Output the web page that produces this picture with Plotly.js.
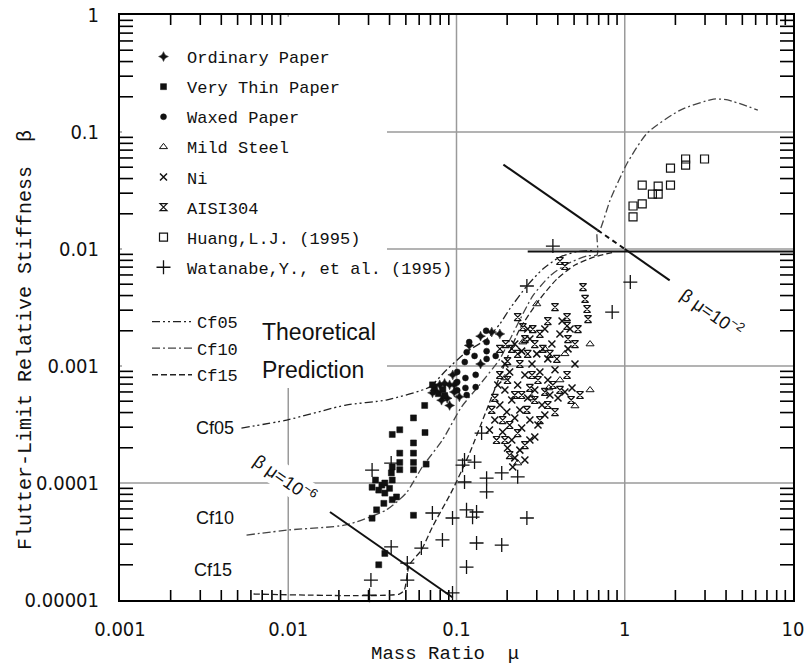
<!DOCTYPE html>
<html><head><meta charset="utf-8">
<script src="https://cdn.plot.ly/plotly-3.0.1.min.js"></script>
<style>html,body{margin:0;padding:0;background:#fff}#chart{width:812px;height:666px}</style>
</head><body><div id="chart"></div>
<script>
// ---------- measured data (mass ratio mu, flutter-limit stiffness beta) ----------
const ordinaryMu   = [0.0795,0.085,0.091,0.097,0.0743,0.072,0.088,0.0815,0.091,0.097,0.104,0.095,0.139,0.162,0.119,0.139,0.181];
const ordinaryBeta = [6.9e-4,7.1e-4,6.9e-4,6.0e-4,6.2e-4,5.9e-4,5.3e-4,5.1e-4,4.6e-4,6.9e-4,5.45e-4,8.4e-4,1.8e-3,1.95e-3,1.5e-3,1.04e-3,1.88e-3];

const thinMu   = [0.0647,0.0555,0.0415,0.046,0.065,0.0555,0.046,0.0555,0.046,0.046,0.0555,0.0555,0.066,0.0415,0.041,0.0315,0.0345,0.0375,0.0415,0.044,0.0415,0.0335,0.0315,0.037,0.0555,0.0375,0.0345,0.033,0.036,0.0375,0.04,0.074,0.078,0.083,0.072,0.085];
const thinBeta = [4.6e-4,3.6e-4,2.6e-4,2.85e-4,2.7e-4,2.2e-4,1.8e-4,1.8e-4,1.5e-4,1.3e-4,1.5e-4,1.3e-4,1.45e-4,1.37e-4,1.22e-4,9.2e-5,8.7e-5,8.2e-5,1.06e-4,7.6e-5,7.2e-5,5.9e-5,5.0e-5,6.7e-5,5.3e-5,2.5e-5,2.0e-5,1.06e-4,9.6e-5,1.0e-4,9.0e-5,6.6e-4,5.8e-4,6.3e-4,6.9e-4,5.6e-4];

const waxedMu   = [0.150,0.151,0.151,0.151,0.128,0.115,0.112,0.130,0.130,0.113,0.101,0.101,0.101,0.171,0.113,0.115,0.119];
const waxedBeta = [2.0e-3,1.6e-3,1.34e-3,1.15e-3,1.22e-3,1.31e-3,1.08e-3,8.4e-4,6.6e-4,6.5e-4,8.9e-4,7.3e-4,6.2e-4,1.22e-3,7.9e-4,5.65e-4,1.6e-3];

const steelMu   = [0.300,0.622,0.622,0.506,0.354,0.231,0.248,0.412,0.281,0.335,0.194,0.441];
const steelBeta = [3.39e-3,1.54e-3,6.24e-4,4.55e-4,6.49e-4,1.48e-4,1.60e-3,7.59e-4,5.33e-4,1.40e-3,7.9e-4,1.27e-3];

const niMu   = [0.222,0.244,0.273,0.300,0.335,0.369,0.412,0.460,0.506,0.486,0.441,0.401,0.349,0.313,0.281,0.255,0.231,0.207,0.194,0.213,0.238,0.265,0.292,0.322,0.273,0.244,0.222,0.199,0.181,0.169,0.188,0.213,0.238,0.222,0.201,0.273,0.305,0.335,0.359,0.385,0.424,0.473,0.349,0.265,0.194,0.176,0.216,0.255,0.292,0.157];
const niBeta = [1.54e-3,1.34e-3,1.70e-3,1.27e-3,2.07e-3,1.54e-3,1.88e-3,1.40e-3,1.04e-3,6.49e-4,6.0e-4,5.33e-4,7.59e-4,8.89e-4,1.04e-3,8.38e-4,6.88e-4,8.89e-4,6.24e-4,5.12e-4,4.21e-4,5.33e-4,6.24e-4,4.64e-4,3.45e-4,2.95e-4,3.59e-4,4.04e-4,4.64e-4,3.45e-4,2.73e-4,2.33e-4,1.91e-4,1.64e-4,1.99e-4,2.33e-4,3.13e-4,3.81e-4,5.65e-4,9.3e-4,2.42e-3,2.07e-3,1.15e-3,2.07e-3,1.04e-3,6.88e-4,1.37e-4,1.57e-4,2.47e-4,2.84e-4];

const aisiMu   = [0.565,0.581,0.597,0.605,0.454,0.454,0.460,0.441,0.412,0.385,0.349,0.313,0.284,0.255,0.231,0.213,0.201,0.238,0.265,0.292,0.326,0.359,0.395,0.374,0.335,0.305,0.273,0.244,0.222,0.201,0.181,0.169,0.188,0.207,0.231,0.255,0.207,0.194,0.173,0.162,0.262,0.292,0.313,0.349,0.385,0.412,0.454,0.506,0.527,0.480,0.542,0.231,0.248,0.181,0.196,0.281];
const aisiBeta = [4.73e-3,3.74e-3,3.07e-3,2.52e-3,2.62e-3,2.2e-3,1.70e-3,7.16e-3,7.9e-3,3.19e-3,2.42e-3,1.88e-3,2.07e-3,1.70e-3,1.27e-3,1.40e-3,1.10e-3,1.04e-3,1.27e-3,1.54e-3,1.40e-3,1.27e-3,1.15e-3,6.88e-4,6.0e-4,7.59e-4,6.49e-4,5.65e-4,5.65e-4,7.59e-4,8.38e-4,5.33e-4,3.45e-4,3.13e-4,2.67e-4,2.11e-4,1.73e-4,2.33e-4,2.33e-4,4.21e-4,4.21e-4,5.12e-4,3.45e-4,4.64e-4,4.04e-4,6.24e-4,8.38e-4,1.54e-3,2.07e-3,5.12e-4,5.65e-4,2.62e-3,2.15e-3,1.40e-3,1.54e-3,8.38e-4];

const huangMu   = [1.12,1.12,1.27,1.27,1.46,1.58,1.58,1.87,1.87,2.30,2.30,2.98];
const huangBeta = [0.0188,0.0233,0.0243,0.0352,0.0295,0.0295,0.0345,0.0352,0.0492,0.0522,0.0588,0.0588];

const watanabeMu   = [0.0101,0.0315,0.0409,0.0719,0.0947,0.1086,0.128,0.1116,0.151,0.151,0.1147,0.1316,0.1246,0.0825,0.1316,0.1857,0.0618,0.051,0.1147,0.0409,0.031,0.0304,0.051,0.0947,0.141,0.1857,0.231,0.262,0.374,0.262,0.842,1.079,0.1116];
const watanabeBeta = [9.1e-6,1.29e-4,1.48e-4,5.54e-5,5.02e-5,1.42e-4,1.51e-4,1.02e-4,1.10e-4,8.4e-5,5.9e-5,5.65e-5,5.1e-5,3.26e-5,3.07e-5,2.95e-5,2.78e-5,2.07e-5,1.91e-5,2.84e-5,1.48e-5,1.1e-5,1.48e-5,1.15e-5,2.67e-4,1.22e-4,1.13e-4,5.02e-5,1.06e-2,4.83e-3,2.89e-3,5.22e-3,1.57e-4];

// ---------- theoretical prediction curves ----------
const cf05Mu   = [0.00527,0.0098,0.0220,0.0382,0.069,0.0871,0.1147,0.151,0.181,0.207,0.262,0.326,0.412,0.52,0.65];
const cf05Beta = [2.95e-4,3.45e-4,4.64e-4,5.12e-4,6.6e-4,9.25e-4,1.32e-3,1.70e-3,2.29e-3,3.07e-3,4.83e-3,6.75e-3,8.55e-3,9.5e-3,9.7e-3];

const cf10Mu   = [0.00565,0.0101,0.0220,0.0382,0.0502,0.0626,0.0825,0.107,0.137,0.181,0.228,0.284,0.359,0.454,0.597,0.685,0.685,0.715,0.819,1.035,1.36,2.14,3.37,4.09,6.18];
const cf10Beta = [3.59e-5,3.97e-5,4.38e-5,5.88e-5,8.2e-5,1.37e-4,2.33e-4,4.46e-4,6.88e-4,1.15e-3,2.2e-3,3.97e-3,5.88e-3,7.44e-3,8.73e-3,8.9e-3,1.39e-2,1.48e-2,0.0262,0.0543,0.098,0.154,0.191,0.188,0.154];

const cf15Mu   = [0.00622,0.0457,0.049,0.0524,0.0618,0.0719,0.0947,0.1196,0.151,0.1934,0.2377,0.313,0.395,0.506,0.66,0.869];
const cf15Beta = [1.125e-5,1.125e-5,1.22e-5,1.99e-5,2.67e-5,4.21e-5,8.73e-5,1.80e-4,4.21e-4,1.04e-3,2.07e-3,3.74e-3,5.54e-3,7.3e-3,8.55e-3,9.4e-3];

const limitMu   = [0.265,10];
const limitBeta = [0.0095,0.0095];

// beta*mu = const reference lines
const bm2SolidMu   = [0.19,0.69,null,1.0,1.85];
const bm2SolidBeta = [0.0526,0.0145,null,0.01,0.0054];
const bm2DashMu    = [0.69,1.0];
const bm2DashBeta  = [0.0145,0.01];
const bm6Mu   = [0.0177,0.095];
const bm6Beta = [5.65e-5,1.05e-5];

// ---------- ticks ----------
const xTickVals  = [0.001,0.01,0.1,1,10];
const xTickText  = ['0.001','0.01','0.1','1','10'];
const yTickVals  = [0.00001,0.0001,0.001,0.01,0.1,1];
const yTickText  = ['0.00001','0.0001','0.001','0.01','0.1','1'];
const xMinorVals = [0.002,0.003,0.004,0.005,0.006,0.007,0.008,0.009,0.02,0.03,0.04,0.05,0.06,0.07,0.08,0.09,0.2,0.3,0.4,0.5,0.6,0.7,0.8,0.9,2,3,4,5,6,7,8,9];
const yMinorVals = [2e-5,3e-5,4e-5,5e-5,6e-5,7e-5,8e-5,9e-5,2e-4,3e-4,4e-4,5e-4,6e-4,7e-4,8e-4,9e-4,2e-3,3e-3,4e-3,5e-3,6e-3,7e-3,8e-3,9e-3,0.02,0.03,0.04,0.05,0.06,0.07,0.08,0.09,0.2,0.3,0.4,0.5,0.6,0.7,0.8,0.9];

// ---------- styling ----------
const INK = '#111';
const GRID = '#9a9a9a';
const monoFont = '"Liberation Mono", "DejaVu Sans Mono", monospace';
const narrowFont = '"Liberation Sans Narrow", "DejaVu Sans Condensed", "Arial Narrow", sans-serif';
const sansFont = '"Liberation Sans", Arial, sans-serif';
const PLOT_W = 673, PLOT_H = 585;
const X_TICK_LEN = 10, Y_TICK_LEN = 13;

function pts(name, x, y, symbol, size, lw, extra) {
  return Object.assign({
    type: 'scatter', mode: 'markers', name: name, x: x, y: y,
    legendgroup: name, legend: 'legend',
    marker: {symbol: symbol, size: size, color: INK, line: {color: INK, width: lw}},
    hoverinfo: 'x+y+name'
  }, extra || {});
}
function curve(name, x, y, dash, color, width) {
  return {
    type: 'scatter', mode: 'lines', name: name, x: x, y: y,
    line: {dash: dash, color: color, width: width, shape: 'spline', smoothing: 0.6},
    showlegend: true, legend: 'legend2', legendgroup: name, hoverinfo: 'skip'
  };
}
function plainLine(x, y, dash) {
  return {type: 'scatter', mode: 'lines', x: x, y: y, showlegend: false, connectgaps: false,
          line: {color: '#111', width: 2, dash: dash || 'solid'}, hoverinfo: 'skip'};
}

const traces = [
  curve('Cf05', cf05Mu, cf05Beta, '8px,3px,2px,3px,2px,3px', '#222', 1.3),
  curve('Cf10', cf10Mu, cf10Beta, '8px,3px,2px,3px', '#444', 1.3),
  curve('Cf15', cf15Mu, cf15Beta, '6px,3px', '#222', 1.3),
  plainLine(limitMu, limitBeta),
  plainLine(bm2SolidMu, bm2SolidBeta),
  plainLine(bm2DashMu, bm2DashBeta, '5px,4px'),
  plainLine(bm6Mu, bm6Beta),
  pts('Ordinary Paper', ordinaryMu, ordinaryBeta, 'star-diamond', 7, 0.5),
  pts('Very Thin Paper', thinMu, thinBeta, 'square', 6, 0.5),
  pts('Waxed Paper', waxedMu, waxedBeta, 'circle', 6, 0.5),
  pts('Mild Steel', steelMu, steelBeta, 'triangle-up-open', 7, 1),
  pts('Ni', niMu, niBeta, 'x-thin-open', 7, 1.5),
  pts('AISI304', aisiMu, aisiBeta, 'hourglass-open', 7, 1.2),
  pts('Huang,L.J. (1995)', huangMu, huangBeta, 'square-open', 8, 1.2),
  pts('Watanabe,Y., et al. (1995)', watanabeMu, watanabeBeta, 'cross-thin-open', 10, 1.3, {cliponaxis: false})
];

function px2paperX(px) { return (px - 120) / PLOT_W; }
function px2paperY(py) { return (600 - py) / PLOT_H; }

// decade grid lines (below the data)
const gridShapes = []
  .concat(xTickVals.slice(1, -1).map(v => ({type: 'line', xref: 'x', yref: 'paper', x0: v, x1: v, y0: 0, y1: 1,
                                              line: {color: GRID, width: 1.5}, layer: 'below'})))
  .concat(yTickVals.slice(1, -1).map(v => ({type: 'line', xref: 'paper', yref: 'y', x0: 0, x1: 1, y0: v, y1: v,
                                              line: {color: GRID, width: 1.5}, layer: 'below'})));
// white backing behind the legend / caption block
const maskShape = {type: 'rect', xref: 'paper', yref: 'paper', x0: 0.003, x1: px2paperX(387), y0: px2paperY(388), y1: 0.997,
                   fillcolor: '#fff', line: {width: 0}, layer: 'below'};
// inward minor ticks on all four sides (same layer as the grid lines, drawn after the mask)
function tickShape(xref, yref, x0, x1, y0, y1) {
  return {type: 'line', xref: xref, yref: yref, x0: x0, x1: x1, y0: y0, y1: y1,
          line: {color: '#000', width: 1.6}, layer: 'below'};
}
const minorTickShapes = []
  .concat(xMinorVals.map(v => tickShape('x', 'paper', v, v, 0, X_TICK_LEN / PLOT_H)))
  .concat(xMinorVals.map(v => tickShape('x', 'paper', v, v, 1, 1 - X_TICK_LEN / PLOT_H)))
  .concat(yMinorVals.map(v => tickShape('paper', 'y', 0, Y_TICK_LEN / PLOT_W, v, v)))
  .concat(yMinorVals.map(v => tickShape('paper', 'y', 1, 1 - Y_TICK_LEN / PLOT_W, v, v)));

const annText = (text, px, py, opts) => Object.assign({
  xref: 'paper', yref: 'paper', x: px2paperX(px), y: px2paperY(py),
  text: text, showarrow: false, xanchor: 'center', yanchor: 'middle',
  font: {family: sansFont, size: 17, color: INK}
}, opts || {});

const NB = '\u00a0', ZW = '\u200b';
const layout = {
  width: 812, height: 666,
  margin: {l: 120, r: 19, t: 15, b: 66, pad: 0, autoexpand: false},
  paper_bgcolor: '#fff', plot_bgcolor: 'rgba(0,0,0,0)',
  showlegend: true,
  xaxis: {
    type: 'log', range: [-3, 1], tickmode: 'array', tickvals: xTickVals, ticktext: xTickText,
    showgrid: false, zeroline: false, ticks: '',
    showline: true, linecolor: '#000', linewidth: 2, mirror: true,
    tickfont: {family: narrowFont, size: 20, color: INK},
    ticklabelstandoff: 10,
    title: {text: 'Mass Ratio  μ' + NB + NB + ZW, font: {family: monoFont, size: 19, color: INK}, standoff: 6}
  },
  yaxis: {
    type: 'log', range: [-5, 0], tickmode: 'array', tickvals: yTickVals, ticktext: yTickText,
    showgrid: false, zeroline: false, ticks: '',
    showline: true, linecolor: '#000', linewidth: 2, mirror: true,
    tickfont: {family: narrowFont, size: 20, color: INK},
    ticklabelstandoff: 15,
    title: {text: ''}
  },
  legend: {
    x: px2paperX(140), y: px2paperY(39), xanchor: 'left', yanchor: 'top',
    bgcolor: 'rgba(0,0,0,0)', borderwidth: 0, traceorder: 'grouped', tracegroupgap: 5,
    itemwidth: 37,
    font: {family: monoFont, size: 17, color: INK}
  },
  legend2: {
    x: px2paperX(147), y: px2paperY(304), xanchor: 'left', yanchor: 'top',
    bgcolor: 'rgba(0,0,0,0)', borderwidth: 0, traceorder: 'grouped', tracegroupgap: 1.5,
    itemwidth: 40,
    font: {family: monoFont, size: 17, color: INK}
  },
  shapes: gridShapes.concat([maskShape]).concat(minorTickShapes),
  annotations: [
    {xref: 'paper', yref: 'paper', x: px2paperX(25), y: px2paperY(340), xanchor: 'center', yanchor: 'middle',
     text: 'Flutter-Limit Relative Stiffness  β', textangle: -90, showarrow: false,
     font: {family: monoFont, size: 20, color: INK}},
    annText('Theoretical', 260, 332, {xanchor: 'left', font: {family: sansFont, size: 23, color: INK}}),
    annText('Prediction', 260, 370, {xanchor: 'left', font: {family: sansFont, size: 23, color: INK}}),
    annText('Cf05', 215, 428, {font: {family: sansFont, size: 18, color: INK}}),
    annText('Cf10', 215, 518, {font: {family: sansFont, size: 18, color: INK}}),
    annText('Cf15', 213, 570, {font: {family: sansFont, size: 18, color: INK}}),
    annText('β μ=10<sup>−6</sup>', 285, 478, {textangle: 35, bgcolor: '#fff', font: {family: sansFont, size: 18, color: INK}}),
    annText('β μ=10<sup>−2</sup>', 712, 312, {textangle: 35, font: {family: sansFont, size: 18, color: INK}})
  ]
};

Plotly.newPlot('chart', traces, layout, {displayModeBar: false, staticPlot: true});
</script></body></html>
